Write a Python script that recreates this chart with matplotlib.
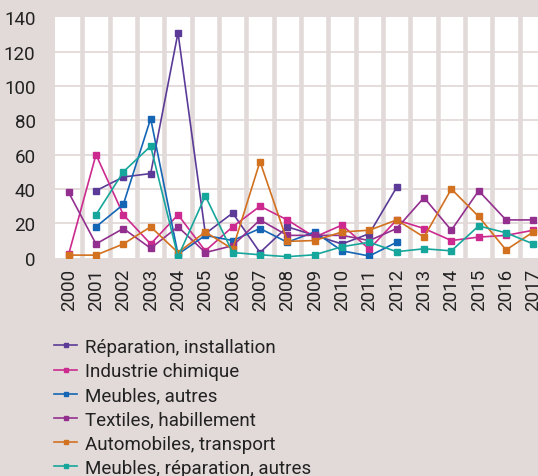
import matplotlib.pyplot as plt
import numpy as np

years = [str(y) for y in range(2000, 2018)]
nan = np.nan

reparation = [nan, 39, 47, 49, 131, 14, 26, 3, 18, 13, 8, 14, 41, nan, nan, nan, nan, nan]
chimique = [2, 60, 25, 8, 25, 4, 18, 30, 22, 12, 19, 5, 22, 17, 10, 12, 13, 16]
meubles = [nan, 18, 31, 81, 2, 13, 10, 17, 9, 15, 4, 1, 9, nan, nan, nan, nan, nan]
textiles = [38, 8, 17, 5.5, 18, 3, 7, 22, 13, 13, 13, 10, 17, 35, 16, 39, 22, 22]
automobiles = [1.5, 1.5, 8, 18, 3, 15, 5, 56, 9.5, 10, 15, 16, 22, 12, 40, 24, 4.5, 15]
meubles_rep = [nan, 25, 50, 65, 0.5, 36, 3, 1.7, 0.6, 1.7, 6.4, 9, 3.5, 5.2, 4, 18.5, 14.5, 8]

series = [
    ('Réparation, installation', reparation, '#5b3b97'),
    ('Industrie chimique', chimique, '#cc2a8e'),
    ('Meubles, autres', meubles, '#1565b5'),
    ('Textiles, habillement', textiles, '#93308f'),
    ('Automobiles, transport', automobiles, '#d2711f'),
    ('Meubles, réparation, autres', meubles_rep, '#17a69b'),
]

bg = '#e2dad8'
plt.rcParams['font.family'] = ['Roboto', 'DejaVu Sans']

fig = plt.figure(figsize=(5.38, 4.77), dpi=100)
fig.patch.set_facecolor(bg)
ax = fig.add_axes([55 / 538, 218.3 / 477, 492 / 538, 240.4 / 477])
ax.set_facecolor('white')

x = np.arange(len(years))
for label, values, color in series:
    ax.plot(x, values, color=color, lw=1.2, marker='s', ms=3.8, label=label)

ax.set_xlim(-0.5, len(years) - 0.5)
ax.set_ylim(0, 140)
ax.set_yticks(range(0, 141, 20))
ax.set_xticks(x)
ax.set_xticklabels(years, rotation=90)

# category separators between years, light rules at each 20
for xv in np.arange(0.5, len(years) - 0.5, 1):
    ax.axvline(xv, color=bg, lw=3.3, zorder=0.5)
for yv in range(20, 140, 20):
    ax.axhline(yv, color=bg, lw=1.3, zorder=0.5)

for s in ax.spines.values():
    s.set_visible(False)
ax.tick_params(length=0, labelsize=13.5, colors='#222222')
ax.tick_params(axis='y', pad=14)
ax.tick_params(axis='x', pad=7)

fig.legend(loc='upper left', bbox_to_anchor=(54 / 538, 1 - 339 / 477),
           frameon=False, fontsize=13.5, handlelength=1.25, handletextpad=0.38,
           labelspacing=0.33, borderpad=0, borderaxespad=0, labelcolor='#222222',
           markerscale=0.85)

fig.savefig('out.png', dpi=100, facecolor=bg)
